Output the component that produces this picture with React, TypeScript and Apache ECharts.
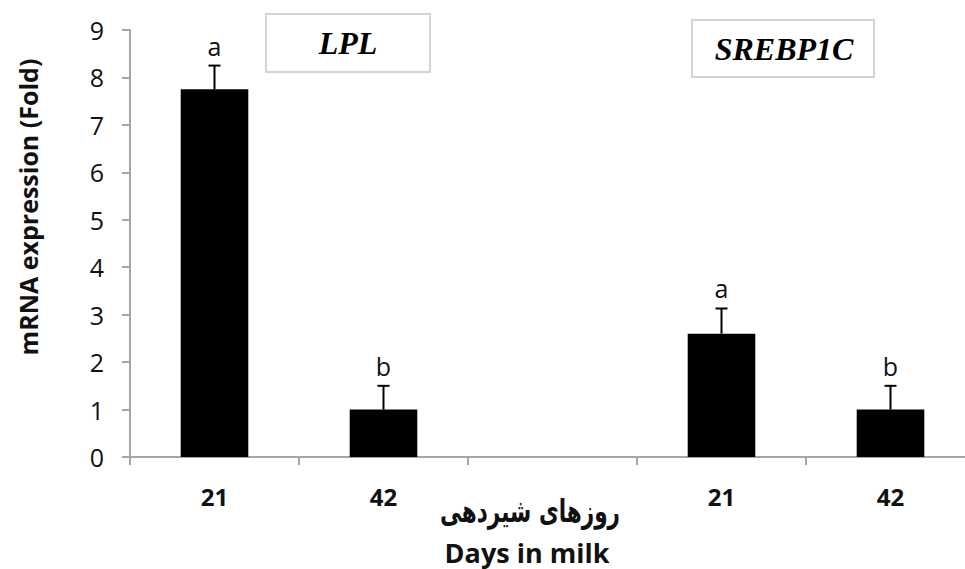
import React, { useEffect, useRef } from "react";
import * as echarts from "echarts";

const categories = ["21", "42", "", "21", "42"];
const values: (number | null)[] = [7.75, 1.0, null, 2.6, 1.0];
const errors: (number | null)[] = [0.5, 0.5, null, 0.53, 0.5];
const letters: string[] = ["a", "b", "", "a", "b"];
const yTicks = { min: 0, max: 9, interval: 1 };
const geneLabels = ["LPL", "SREBP1C"];
const yTitle = "mRNA expression (Fold)";
const xTitleFa = "روزهای شیردهی";
const xTitleEn = "Days in milk";

const FONT = "'Open Sans', 'DejaVu Sans', sans-serif";

export default function App() {
  const ref = useRef<HTMLDivElement>(null);
  useEffect(() => {
    if (!ref.current) return;
    const chart = echarts.init(ref.current, undefined, { renderer: "svg" });
    const errData = values.map((v, i) => [i, v, errors[i], letters[i]]).filter((d) => d[1] != null);
    chart.setOption({
      animation: false,
      backgroundColor: "#ffffff",
      grid: { left: 130, top: 30, bottom: 112, right: 0, containLabel: false },
      xAxis: {
        type: "category",
        data: categories,
        axisLine: { lineStyle: { color: "#a6a6a6", width: 2 } },
        axisTick: { show: true, length: 8, lineStyle: { color: "#a6a6a6", width: 2 } },
        axisLabel: { color: "#111", fontSize: 24, fontWeight: "bold", fontFamily: FONT, margin: 27 },
      },
      yAxis: {
        type: "value",
        min: yTicks.min,
        max: yTicks.max,
        interval: yTicks.interval,
        axisLine: { show: true, lineStyle: { color: "#a6a6a6", width: 2 } },
        axisTick: { show: true, inside: false, length: 8, lineStyle: { color: "#a6a6a6", width: 2 } },
        splitLine: { show: false },
        axisLabel: { color: "#111", fontSize: 25, fontFamily: FONT, margin: 26 },
      },
      series: [
        {
          type: "bar",
          data: values,
          barWidth: "40%",
          itemStyle: { color: "#000000" },
        },
        {
          type: "custom",
          data: errData,
          renderItem: (params: any, api: any) => {
            const i = api.value(0);
            const v = api.value(1);
            const e = api.value(2);
            const letter = errData[params.dataIndex][3] as string;
            const base = api.coord([i, v]);
            const top = api.coord([i, v + e]);
            const cap = 6;
            return {
              type: "group",
              children: [
                { type: "line", shape: { x1: base[0], y1: base[1], x2: top[0], y2: top[1] }, style: { stroke: "#000", lineWidth: 2 } },
                { type: "line", shape: { x1: top[0] - cap, y1: top[1], x2: top[0] + cap, y2: top[1] }, style: { stroke: "#000", lineWidth: 2 } },
                {
                  type: "text",
                  x: top[0],
                  y: top[1] - 20,
                  style: { text: letter, fill: "#111", font: `25px ${FONT}`, align: "center", verticalAlign: "middle" },
                },
              ],
            };
          },
          z: 5,
        },
      ],
      graphic: [
        {
          type: "rect",
          shape: { x: 266, y: 14, width: 164, height: 58 },
          style: { fill: "#fff", stroke: "#d4d4d4", lineWidth: 2 },
        },
        {
          type: "text",
          x: 348,
          y: 43,
          style: { text: geneLabels[0], fill: "#000", font: "italic bold 32px 'Liberation Serif', serif", align: "center", verticalAlign: "middle" },
        },
        {
          type: "rect",
          shape: { x: 692, y: 20, width: 182, height: 57 },
          style: { fill: "#fff", stroke: "#d4d4d4", lineWidth: 2 },
        },
        {
          type: "text",
          x: 784,
          y: 49,
          style: { text: geneLabels[1], fill: "#000", font: "italic bold 32px 'Liberation Serif', serif", align: "center", verticalAlign: "middle" },
        },
        {
          type: "text",
          x: 28,
          y: 207,
          rotation: Math.PI / 2,
          style: { text: yTitle, fill: "#111", font: `bold 25px ${FONT}`, align: "center", verticalAlign: "middle" },
        },
        {
          type: "text",
          x: 530,
          y: 511,
          scaleX: 0.9,
          scaleY: 1.3,
          style: { text: xTitleFa, fill: "#111", font: "bold 24px 'DejaVu Sans', sans-serif", align: "center", verticalAlign: "middle" },
        },
        {
          type: "text",
          x: 527,
          y: 552,
          style: { text: xTitleEn, fill: "#111", font: `bold 27px ${FONT}`, align: "center", verticalAlign: "middle" },
        },
      ],
    });
    return () => chart.dispose();
  }, []);
  return (
    <div style={{ width: 965, height: 569, position: "absolute", left: 0, top: 0, overflow: "hidden" }}>
      <div ref={ref} style={{ width: 975, height: 569, position: "absolute", left: 0, top: 0 }} />
    </div>
  );
}
